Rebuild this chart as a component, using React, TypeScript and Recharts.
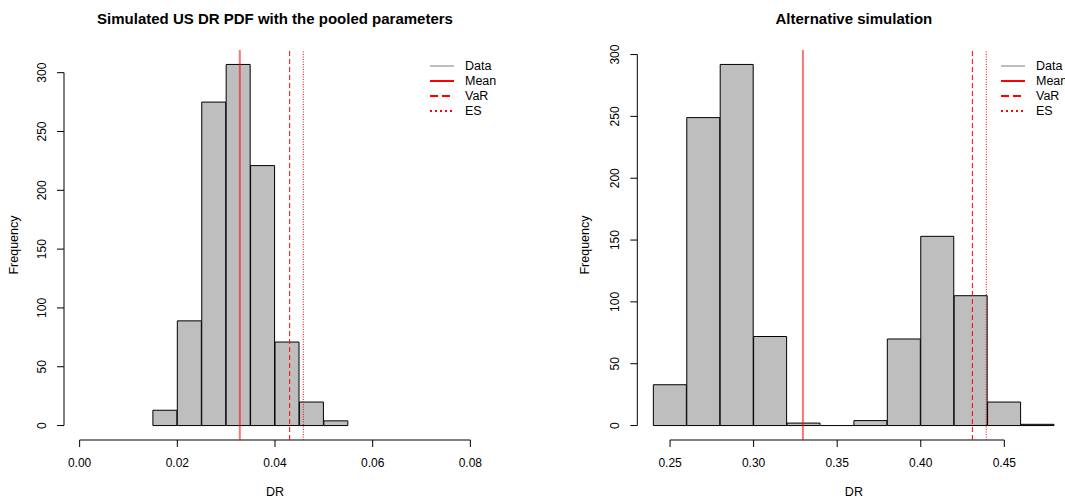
import { ComposedChart, Bar, XAxis, YAxis, ReferenceLine, Legend } from 'recharts';

// histogram bins (left edges) and frequencies
const pooledBinStarts = [0.015, 0.02, 0.025, 0.03, 0.035, 0.04, 0.045, 0.05];
const pooledCounts = [13, 89, 275, 307, 221, 71, 20, 4];
const pooledBinWidth = 0.005;
const pooledXTicks = [0, 0.02, 0.04, 0.06, 0.08];
const pooledMean = 0.0328;
const pooledVaR = 0.043;
const pooledES = 0.0458;

const altBinStarts = [0.24, 0.26, 0.28, 0.3, 0.32, 0.34, 0.36, 0.38, 0.4, 0.42, 0.44, 0.46];
const altCounts = [33, 249, 292, 72, 2, 0, 4, 70, 153, 105, 19, 1];
const altBinWidth = 0.02;
const altXTicks = [0.25, 0.3, 0.35, 0.4, 0.45];
const altMean = 0.3295;
const altVaR = 0.4309;
const altES = 0.4392;

const freqTicks = [0, 50, 100, 150, 200, 250, 300];

const legendNames = ['Data', 'Mean', 'VaR', 'ES'];
const legendColors = ['#BEBEBE', '#FF0000', '#FF0000', '#FF0000'];
const legendDashes = [undefined, undefined, '8 4', '2 3'];

const FONT = '"Liberation Sans", Arial, Helvetica, sans-serif';

function LegendBox() {
  return (
    <svg width={120} height={64} style={{ fontFamily: FONT }}>
      {legendNames.map((name, i) => {
        const cy = 8 + i * 15;
        return (
          <g key={name}>
            <line x1={5} x2={29} y1={cy} y2={cy} stroke={legendColors[i]} strokeWidth={2} strokeDasharray={legendDashes[i]} />
            <text x={40} y={cy} dy="0.35em" fontSize={12.5} fill="#000">{name}</text>
          </g>
        );
      })}
    </svg>
  );
}

function YTick(props: any) {
  const { x, y, payload } = props;
  return (
    <text x={x} y={y} dy="0.35em" transform={`rotate(-90 ${x} ${y})`} textAnchor="middle" fontSize={12} fill="#000">
      {payload.value}
    </text>
  );
}

type HistProps = {
  title: string;
  binStarts: number[];
  counts: number[];
  binWidth: number;
  xTicks: number[];
  xPad: [number, number];
  mean: number;
  varLine: number;
  es: number;
  left: number;
  width: number;
  margin: { top: number; right: number; bottom: number; left: number };
  legendLeft: number;
  yLabelOffset: number;
};

function Histogram(p: HistProps) {
  const data = p.binStarts.map((s, i) => ({ mid: s + p.binWidth / 2, count: p.counts[i] }));
  const xMin = p.xPad[0];
  const xMax = p.xPad[1];
  const maxCount = Math.max(...p.counts);
  const yMin = -0.04 * maxCount;
  const yMax = maxCount * 1.04;
  const plotLeft = p.margin.left + 60;
  const plotWidth = p.width - plotLeft - p.margin.right;
  const emptyBins = p.binStarts.filter((_, i) => p.counts[i] === 0);

  return (
    <div style={{ position: 'absolute', left: p.left, top: 0 }}>
      <div
        style={{
          position: 'absolute',
          left: plotLeft,
          width: plotWidth,
          top: 11,
          textAlign: 'center',
          fontFamily: FONT,
          fontWeight: 'bold',
          fontSize: 15,
          lineHeight: '15px',
          whiteSpace: 'nowrap',
        }}
      >
        {p.title}
      </div>
      <ComposedChart
        width={p.width}
        height={499}
        data={data}
        margin={p.margin}
        barCategoryGap={0}
        barGap={0}
        style={{ fontFamily: FONT }}
      >
        <XAxis
          dataKey="mid"
          type="number"
          domain={[xMin, xMax]}
          allowDataOverflow
          ticks={p.xTicks}
          interval={0}
          tickFormatter={(v) => Number(v).toFixed(2)}
          axisLine={false}
          tickLine={{ stroke: '#000' }}
          tickSize={7}
          tickMargin={11}
          height={40}
          tick={{ fill: '#000', fontSize: 12 }}
          label={{ value: 'DR', position: 'bottom', offset: 7, fill: '#000', fontSize: 12.5 }}
        />
        <YAxis
          type="number"
          domain={[yMin, yMax]}
          allowDataOverflow
          ticks={freqTicks}
          interval={0}
          axisLine={false}
          tickLine={{ stroke: '#000' }}
          tickSize={7}
          tickMargin={15}
          width={60}
          tick={<YTick />}
          label={{
            value: 'Frequency',
            angle: -90,
            position: 'insideLeft',
            offset: p.yLabelOffset,
            fill: '#000',
            fontSize: 12.5,
            style: { textAnchor: 'middle' },
          }}
        />
        <Legend
          verticalAlign="middle"
          align="center"
          content={() => <LegendBox />}
          wrapperStyle={{ left: p.legendLeft, top: 58, width: 120, height: 64 }}
        />
        <Bar dataKey="count" fill="#BEBEBE" stroke="#000" strokeWidth={1} isAnimationActive={false} legendType="none" />
        {emptyBins.map((s) => (
          <ReferenceLine key={s} segment={[{ x: s, y: 0 }, { x: s + p.binWidth, y: 0 }]} stroke="#000" strokeWidth={1} />
        ))}
        {/* R style axes: lines only between first and last tick */}
        <ReferenceLine
          segment={[{ x: p.xTicks[0], y: yMin }, { x: p.xTicks[p.xTicks.length - 1], y: yMin }]}
          stroke="#000"
          strokeWidth={1}
        />
        <ReferenceLine
          segment={[{ x: xMin, y: freqTicks[0] }, { x: xMin, y: freqTicks[freqTicks.length - 1] }]}
          stroke="#000"
          strokeWidth={1}
        />
        <ReferenceLine x={p.mean} stroke="#FF0000" strokeOpacity={0.55} strokeWidth={2} />
        <ReferenceLine x={p.varLine} stroke="#FF0000" strokeWidth={1} strokeDasharray="5 3" />
        <ReferenceLine x={p.es} stroke="#FF0000" strokeWidth={1} strokeDasharray="1 1.5" />
      </ComposedChart>
    </div>
  );
}

export default function App() {
  return (
    <div
      style={{
        position: 'absolute',
        left: 0,
        top: 0,
        width: 1065,
        height: 499,
        overflow: 'hidden',
        background: '#fff',
      }}
    >
      <Histogram
        title="Simulated US DR PDF with the pooled parameters"
        binStarts={pooledBinStarts}
        counts={pooledCounts}
        binWidth={pooledBinWidth}
        xTicks={pooledXTicks}
        xPad={[-0.0032, 0.0832]}
        mean={pooledMean}
        varLine={pooledVaR}
        es={pooledES}
        left={0}
        width={540}
        margin={{ top: 50, right: 54, bottom: 19, left: 4 }}
        legendLeft={425}
        yLabelOffset={10}
      />
      <Histogram
        title="Alternative simulation"
        binStarts={altBinStarts}
        counts={altCounts}
        binWidth={altBinWidth}
        xTicks={altXTicks}
        xPad={[0.2304, 0.4896]}
        mean={altMean}
        varLine={altVaR}
        es={altES}
        left={540}
        width={560}
        margin={{ top: 50, right: 29.5, bottom: 19, left: 37.3 }}
        legendLeft={456}
        yLabelOffset={7}
      />
    </div>
  );
}
